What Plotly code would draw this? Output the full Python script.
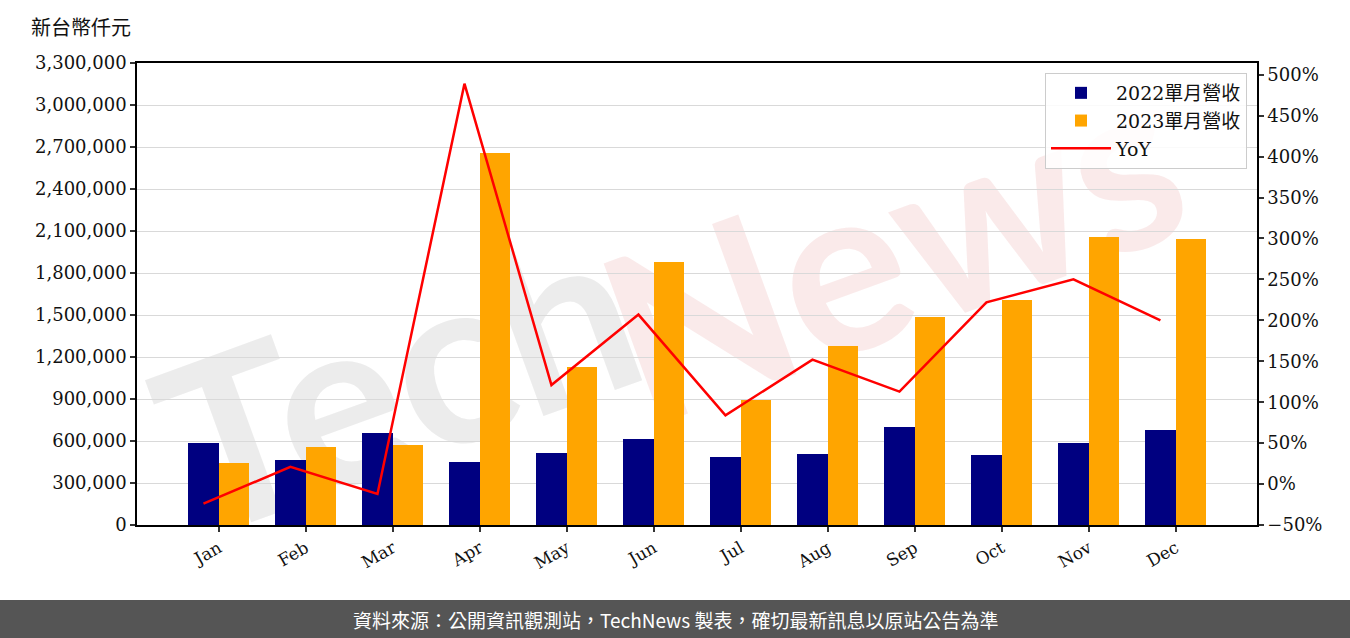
import plotly.graph_objects as go

months = ["Jan", "Feb", "Mar", "Apr", "May", "Jun", "Jul", "Aug", "Sep", "Oct", "Nov", "Dec"]
rev_2022 = [585000, 464000, 657000, 450000, 514000, 614000, 486000, 507000, 700000, 500000, 586000, 679000]
rev_2023 = [443000, 557000, 571000, 2657000, 1129000, 1879000, 893000, 1279000, 1486000, 1607000, 2057000, 2043000]
yoy = [-24, 21, -12, 489, 121, 207, 84, 152, 113, 222, 250, 200]

W = 0.35
idx = list(range(len(months)))
x22 = [i for i in idx]
x23 = [i + W for i in idx]
xt = [i + W / 2 for i in idx]

FONT = "DejaVu Serif, Noto Sans CJK TC, serif"
W_PX, H_PX = 1350, 638
L, R, T, B = 137, 1257, 63, 525

def px_x(p):
    return (p - L) / (R - L)

def px_y(p):
    return (B - p) / (B - T)

fig = go.Figure()
fig.add_trace(go.Bar(x=x22, y=rev_2022, width=W, name="2022單月營收",
                     marker=dict(color="#000080", line=dict(width=0))))
fig.add_trace(go.Bar(x=x23, y=rev_2023, width=W, name="2023單月營收",
                     marker=dict(color="#FFA500", line=dict(width=0))))
fig.add_trace(go.Scatter(x=x22, y=yoy, name="YoY", mode="lines", yaxis="y2",
                         line=dict(color="#FF0000", width=2.5)))

fig.update_layout(
    width=W_PX, height=H_PX,
    margin=dict(l=L, r=W_PX - R, t=T, b=H_PX - B, autoexpand=False),
    paper_bgcolor="white", plot_bgcolor="white",
    font=dict(family=FONT, size=18, color="#111111"),
    barmode="overlay", bargap=0,
    showlegend=True,
    legend=dict(x=px_x(1247), y=px_y(73), xanchor="right", yanchor="top",
                bgcolor="rgba(255,255,255,0.85)", bordercolor="#cccccc", borderwidth=1,
                font=dict(family=FONT, size=19, color="#111111"), traceorder="normal",
                itemwidth=60),
    xaxis=dict(range=[-0.764, 12.11], tickvals=xt, ticktext=months, tickangle=-30,
               showgrid=False, zeroline=False, showline=True, linecolor="black", linewidth=1.5,
               mirror=True, ticks="outside", ticklen=5, tickcolor="#333333", tickwidth=1.5,
               tickfont=dict(family=FONT, size=17)),
    yaxis=dict(range=[0, 3300000], dtick=300000, tick0=0, tickformat=",d",
               showgrid=True, gridcolor="#d9d9d9", gridwidth=1, zeroline=False,
               showline=True, linecolor="black", linewidth=1.5, mirror=True,
               ticks="outside", ticklen=5, tickcolor="#333333", tickwidth=1.5,
               tickfont=dict(family=FONT, size=18)),
    yaxis2=dict(range=[-50, 514.3], dtick=50, tick0=-50, ticksuffix="%", overlaying="y",
                side="right", showgrid=False, zeroline=False, showline=True,
                linecolor="black", linewidth=1.5, ticks="outside", ticklen=5,
                tickcolor="#333333", tickwidth=1.5, tickfont=dict(family=FONT, size=18)),
)

# watermark (behind the data)
fig.add_shape(type="rect", xref="paper", yref="paper",
              x0=px_x(140), x1=px_x(650), y0=px_y(520), y1=px_y(220),
              line=dict(width=0), fillcolor="rgba(0,0,0,0)", layer="below",
              label=dict(text="<b>Tech</b>", textangle=-20, textposition="middle center",
                         font=dict(family="Lato, Noto Sans", size=235, color="rgba(200,200,200,0.35)")))
fig.add_shape(type="rect", xref="paper", yref="paper",
              x0=px_x(540), x1=px_x(1240), y0=px_y(390), y1=px_y(90),
              line=dict(width=0), fillcolor="rgba(0,0,0,0)", layer="below",
              label=dict(text="<b>News</b>", textangle=-20, textposition="middle center",
                         font=dict(family="Lato, Noto Sans", size=235, color="rgba(230,140,140,0.18)")))

# unit label
fig.add_annotation(text="新台幣仟元", xref="paper", yref="paper", x=px_x(81), y=px_y(27),
                   xanchor="center", yanchor="middle", showarrow=False,
                   font=dict(family="Noto Sans CJK TC", size=20, color="#111111"))

# footer band
fig.add_shape(type="rect", xref="paper", yref="paper",
              x0=px_x(-5), x1=px_x(1360), y0=px_y(600), y1=px_y(645),
              line=dict(width=0), fillcolor="#555555", layer="above")
fig.add_annotation(text="資料來源：公開資訊觀測站，TechNews 製表，確切最新訊息以原站公告為準",
                   xref="paper", yref="paper", x=px_x(675), y=px_y(619),
                   xanchor="center", yanchor="middle", showarrow=False,
                   font=dict(family="Noto Sans CJK TC", size=19, color="white"))

fig.write_html("out.html", config={"displayModeBar": False},
               post_script="document.body.style.margin='0';document.body.style.overflow='hidden';")
